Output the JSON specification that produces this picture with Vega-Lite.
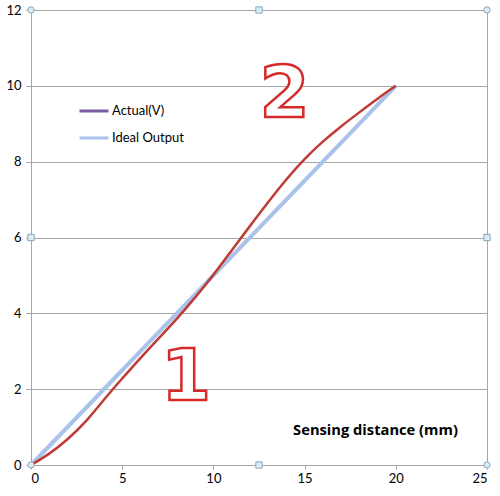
{
  "$schema": "https://vega.github.io/schema/vega-lite/v6.json",
  "width": 456,
  "height": 455,
  "autosize": {"type": "none"},
  "padding": {"left": 31, "top": 10, "right": 13, "bottom": 31},
  "background": "white",
  "config": {
    "font": "Lato",
    "view": {"stroke": "#a6a6a6", "strokeWidth": 1},
    "axis": {
      "labelFont": "Lato",
      "labelFontSize": 13,
      "labelColor": "#000000",
      "domainColor": "#a6a6a6",
      "tickColor": "#a6a6a6",
      "gridColor": "#a6a6a6"
    }
  },
  "datasets": {
    "ideal": [
      {"x": 0, "y": 0, "series": "Ideal Output"},
      {"x": 20, "y": 10, "series": "Ideal Output"}
    ],
    "actual": [
      {"x": 0, "y": 0},
      {"x": 1, "y": 0.3},
      {"x": 2, "y": 0.68},
      {"x": 3, "y": 1.15},
      {"x": 4, "y": 1.72},
      {"x": 5, "y": 2.28},
      {"x": 6, "y": 2.82},
      {"x": 7, "y": 3.34},
      {"x": 8, "y": 3.86},
      {"x": 9, "y": 4.42},
      {"x": 10, "y": 5.02},
      {"x": 11, "y": 5.66},
      {"x": 12, "y": 6.3},
      {"x": 13, "y": 6.93},
      {"x": 14, "y": 7.53},
      {"x": 15, "y": 8.07},
      {"x": 16, "y": 8.53},
      {"x": 17, "y": 8.93},
      {"x": 18, "y": 9.3},
      {"x": 19, "y": 9.66},
      {"x": 20, "y": 10}
    ],
    "handles": [
      {"x": 0, "y": 0, "shape": "circle"},
      {"x": 0, "y": 12, "shape": "circle"},
      {"x": 25, "y": 12, "shape": "circle"},
      {"x": 25, "y": 0, "shape": "circle"},
      {"x": 12.5, "y": 12, "shape": "square"},
      {"x": 12.5, "y": 0, "shape": "square"},
      {"x": 0, "y": 6, "shape": "square"},
      {"x": 25, "y": 6, "shape": "square"}
    ],
    "labels": [
      {"x": 8.5, "y": 2.3, "t": "1"},
      {"x": 13.9, "y": 9.76, "t": "2"}
    ]
  },
  "layer": [
    {
      "data": {"name": "ideal"},
      "mark": {"type": "line", "strokeWidth": 4},
      "encoding": {
        "x": {
          "field": "x", "type": "quantitative",
          "scale": {"domain": [0, 25], "nice": false},
          "axis": {
            "values": [0, 5, 10, 15, 20, 25],
            "grid": false,
            "tickSize": 4,
            "labelPadding": 3,
            "title": "Sensing distance (mm)",
            "titleFont": "Open Sans",
            "titleFontSize": 14.7,
            "titleFontWeight": "bold",
            "titleColor": "#000000",
            "titleX": 344,
            "titleY": -35,
            "titleAnchor": "middle",
            "titleBaseline": "middle"
          }
        },
        "y": {
          "field": "y", "type": "quantitative",
          "scale": {"domain": [0, 12], "nice": false},
          "axis": {
            "values": [0, 2, 4, 6, 8, 10, 12],
            "grid": true,
            "tickSize": 5,
            "labelPadding": 5,
            "title": null
          }
        },
        "color": {
          "field": "series", "type": "nominal",
          "scale": {"domain": ["Actual(V)", "Ideal Output"], "range": ["#7a5aa0", "#a9c3ea"]},
          "legend": {
            "title": null,
            "orient": "none",
            "legendX": 47,
            "legendY": 85,
            "padding": 0,
            "symbolType": "stroke",
            "symbolSize": 841,
            "symbolStrokeWidth": 3,
            "labelFont": "Lato",
            "labelFontSize": 13,
            "labelColor": "#000000",
            "rowPadding": 4,
            "labelOffset": 2
          }
        }
      }
    },
    {
      "data": {"name": "actual"},
      "mark": {"type": "line", "color": "#be3b36", "strokeWidth": 2.5, "interpolate": "natural"},
      "encoding": {
        "x": {"field": "x", "type": "quantitative"},
        "y": {"field": "y", "type": "quantitative"}
      }
    },
    {
      "data": {"name": "labels"},
      "mark": {"type": "text", "font": "DejaVu Sans", "fontWeight": "bold", "fontSize": 72, "fill": "#ffffff", "stroke": "#d42a2a", "strokeWidth": 2.5, "align": "center", "baseline": "middle"},
      "encoding": {
        "x": {"field": "x", "type": "quantitative"},
        "y": {"field": "y", "type": "quantitative"},
        "text": {"field": "t"}
      }
    },
    {
      "data": {"name": "handles"},
      "mark": {"type": "point", "filled": true, "fill": "#dcecf6", "stroke": "#8aa6b8", "strokeWidth": 1, "size": 40, "opacity": 1, "clip": false},
      "encoding": {
        "x": {"field": "x", "type": "quantitative"},
        "y": {"field": "y", "type": "quantitative"},
        "shape": {"field": "shape", "type": "nominal", "scale": {"domain": ["circle", "square"], "range": ["circle", "square"]}, "legend": null}
      }
    }
  ]
}
